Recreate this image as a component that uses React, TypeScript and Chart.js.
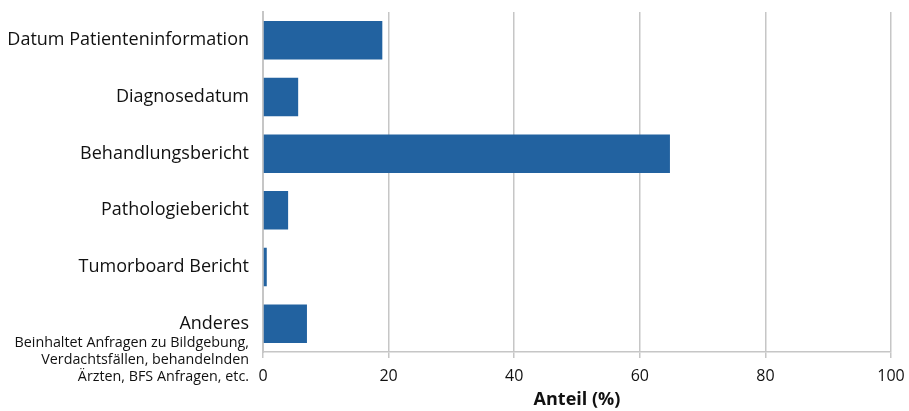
import React, { useEffect, useRef } from "react";
import { Chart, registerables } from "chart.js";

Chart.register(...registerables);

const categories = [
  "Datum Patienteninformation",
  "Diagnosedatum",
  "Behandlungsbericht",
  "Pathologiebericht",
  "Tumorboard Bericht",
  "Anderes",
];
const shares = [19, 5.6, 64.8, 4.0, 0.6, 7.0];
const andersNote = [
  "Beinhaltet Anfragen zu Bildgebung,",
  "Verdachtsfällen, behandelnden",
  "Ärzten, BFS Anfragen, etc.",
];
const xTicks = [0, 20, 40, 60, 80, 100];

const FONT = "'Open Sans', 'Noto Sans', sans-serif";
const BAR = "#2262A0";
const GRID = "#c6c6c6";
const TEXT = "#111111";

// Small explanatory text under the "Anderes" category label
const notePlugin = {
  id: "andersNote",
  afterDraw(chart: any) {
    const y = chart.scales.y;
    const ctx = chart.ctx;
    const yc = y.getPixelForValue(categories.length - 1);
    ctx.save();
    ctx.font = `14.3px ${FONT}`;
    ctx.fillStyle = TEXT;
    ctx.textAlign = "right";
    ctx.textBaseline = "middle";
    andersNote.forEach((line, i) => {
      ctx.fillText(line, y.right - 14, yc + 19 + i * 17);
    });
    ctx.restore();
  },
};

export default function App() {
  const ref = useRef<HTMLCanvasElement>(null);

  useEffect(() => {
    if (!ref.current) return;
    const chart = new Chart(ref.current, {
      type: "bar",
      data: {
        labels: categories,
        datasets: [
          {
            data: shares,
            backgroundColor: BAR,
            borderWidth: 0,
            categoryPercentage: 1,
            barPercentage: 0.68,
          },
        ],
      },
      options: {
        indexAxis: "y",
        animation: false,
        responsive: false,
        maintainAspectRatio: false,
        layout: { padding: { top: 12, right: 18, left: 0, bottom: 0 } },
        plugins: {
          legend: { display: false },
          tooltip: { enabled: false },
        },
        scales: {
          x: {
            min: 0,
            max: 100,
            afterBuildTicks(scale: any) {
              scale.ticks = xTicks.map((v) => ({ value: v }));
            },
            afterFit(scale: any) {
              scale.height = 59;
              scale.paddingLeft = 0;
              scale.paddingRight = 0;
            },
            grid: {
              color: GRID,
              lineWidth: 1.5,
              tickLength: 6,
              drawTicks: true,
            },
            border: { display: true, color: GRID, width: 1.5 },
            ticks: {
              color: TEXT,
              font: { family: FONT, size: 16 },
              padding: 9,
            },
            title: {
              display: true,
              text: "Anteil (%)",
              color: TEXT,
              font: { family: FONT, size: 18, weight: "bold" },
              padding: { top: 0, bottom: 0 },
            },
          },
          y: {
            afterFit(scale: any) {
              scale.width = 263;
              scale.paddingTop = 0;
              scale.paddingBottom = 0;
            },
            grid: { display: false, drawTicks: false },
            border: { display: true, color: GRID, width: 2 },
            ticks: {
              color: TEXT,
              font: { family: FONT, size: 18 },
              padding: 14,
            },
          },
        },
      },
      plugins: [notePlugin],
    });
    return () => chart.destroy();
  }, []);

  return (
    <div style={{ position: "fixed", left: 0, top: 0, width: 909, height: 411, background: "#fff" }}>
      <canvas ref={ref} width={909} height={411} style={{ display: "block" }} />
    </div>
  );
}
